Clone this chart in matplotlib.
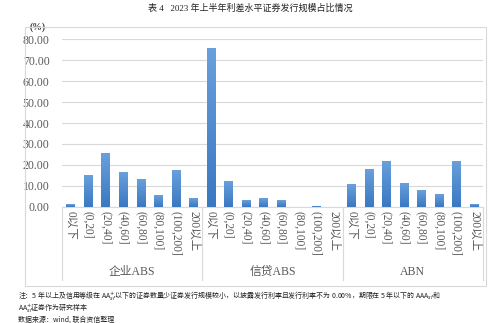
import numpy as np
import matplotlib.pyplot as plt
from matplotlib.patches import Rectangle
from matplotlib.colors import LinearSegmentedColormap

# data
groups = ["企业ABS", "信贷ABS", "ABN"]
bins = ["0以下", "(0,20]", "(20,40]", "(40,60]", "(60,80]", "(80,100]", "(100,200]", "200以上"]
qiye_abs = [1.4, 15.2, 25.8, 16.4, 13.2, 5.4, 17.5, 4.2]
xindai_abs = [75.9, 12.1, 3.2, 4.3, 3.1, 0.0, 0.3, 0.0]
abn = [10.7, 17.9, 21.9, 11.3, 8.1, 6.1, 21.9, 1.4]

values = qiye_abs + xindai_abs + abn
labels = bins * 3

serif = ["Liberation Serif", "Noto Sans CJK SC"]
grey = "#595959"

fig = plt.figure(figsize=(5, 3.23), dpi=100)
W, H = 500, 323

# outer chart box
fig.patches.append(Rectangle((25 / W, 1 - 286 / H), (486 - 25) / W, (286 - 27) / H,
                             transform=fig.transFigure, fill=False,
                             edgecolor="#d9d9d9", linewidth=0.8))

ax = fig.add_axes([62 / W, 1 - 206.7 / H, (483 - 62) / W, (206.7 - 39.3) / H])

x = np.arange(len(values))
bars = ax.bar(x, values, width=0.5, color="#4a8ad2", zorder=2)

# light vertical gradient on bars
grad = np.linspace(0, 1, 100).reshape(-1, 1)
cmap = LinearSegmentedColormap.from_list("g", ["#3a78c2", "#69a0dc"])
for b in bars:
    h = b.get_height()
    if h <= 0:
        continue
    ax.imshow(grad, cmap=cmap, aspect="auto", zorder=3, origin="lower",
              extent=(b.get_x(), b.get_x() + b.get_width(), 0, h))

ax.set_xlim(-0.5, len(values) - 0.5)
ax.set_ylim(0, 80)
ax.set_yticks(np.arange(0, 81, 10))
ax.set_yticklabels([f"{v:.2f}" for v in np.arange(0, 81, 10)],
                   family=serif, fontsize=8.5, color=grey)
ax.yaxis.grid(True, color="#d9d9d9", linewidth=0.8, zorder=0)
ax.set_axisbelow(True)

ax.set_xticks(x)
ax.set_xticklabels(labels, rotation=-90, family=serif, fontsize=8.3,
                   color=grey, va="top", ha="center")
ax.tick_params(axis="both", length=0)
ax.tick_params(axis="x", pad=3)
ax.tick_params(axis="y", pad=9)

for s in ["top", "right", "left"]:
    ax.spines[s].set_visible(False)
ax.spines["bottom"].set_color("#d9d9d9")

# group separators and group names
trans = ax.get_xaxis_transform()
for k in range(len(groups) + 1):
    xs = k * len(bins) - 0.5
    ax.plot([xs, xs], [0, -0.438], transform=trans, color="#d9d9d9",
            linewidth=0.8, clip_on=False)
for k, g in enumerate(groups):
    ax.text(k * len(bins) + (len(bins) - 1) / 2, -0.39, g, transform=trans,
            ha="center", va="center", family=serif, fontsize=8.5, color=grey)

ax.text(-0.076, 1.073, "(%)", transform=ax.transAxes, family=serif,
        fontsize=7, fontweight="bold", color="#404040", ha="left", va="center")

fig.text(0.5, 1 - 8 / H, "表 4   2023 年上半年利差水平证券发行规模占比情况",
         ha="center", va="center", family=serif, fontsize=6.5, color="#222222")

notes = ["注：5 年以上及信用等级在 AA$^{+}_{sf}$以下的证券数量少证券发行规模较小，以披露发行利率且发行利率不为 0.00%，期限在 5 年以下的 AAA$_{sf}$和",
         "AA$^{+}_{sf}$证券作为研究样本",
         "数据来源：wind, 联合资信整理"]
for i, n in enumerate(notes):
    fig.text(18 / W, 1 - (296 + 11.6 * i) / H, n, ha="left", va="center",
             family="Noto Sans CJK SC", fontsize=5.0, color="#222222")

fig.savefig("out.png", dpi=100)
